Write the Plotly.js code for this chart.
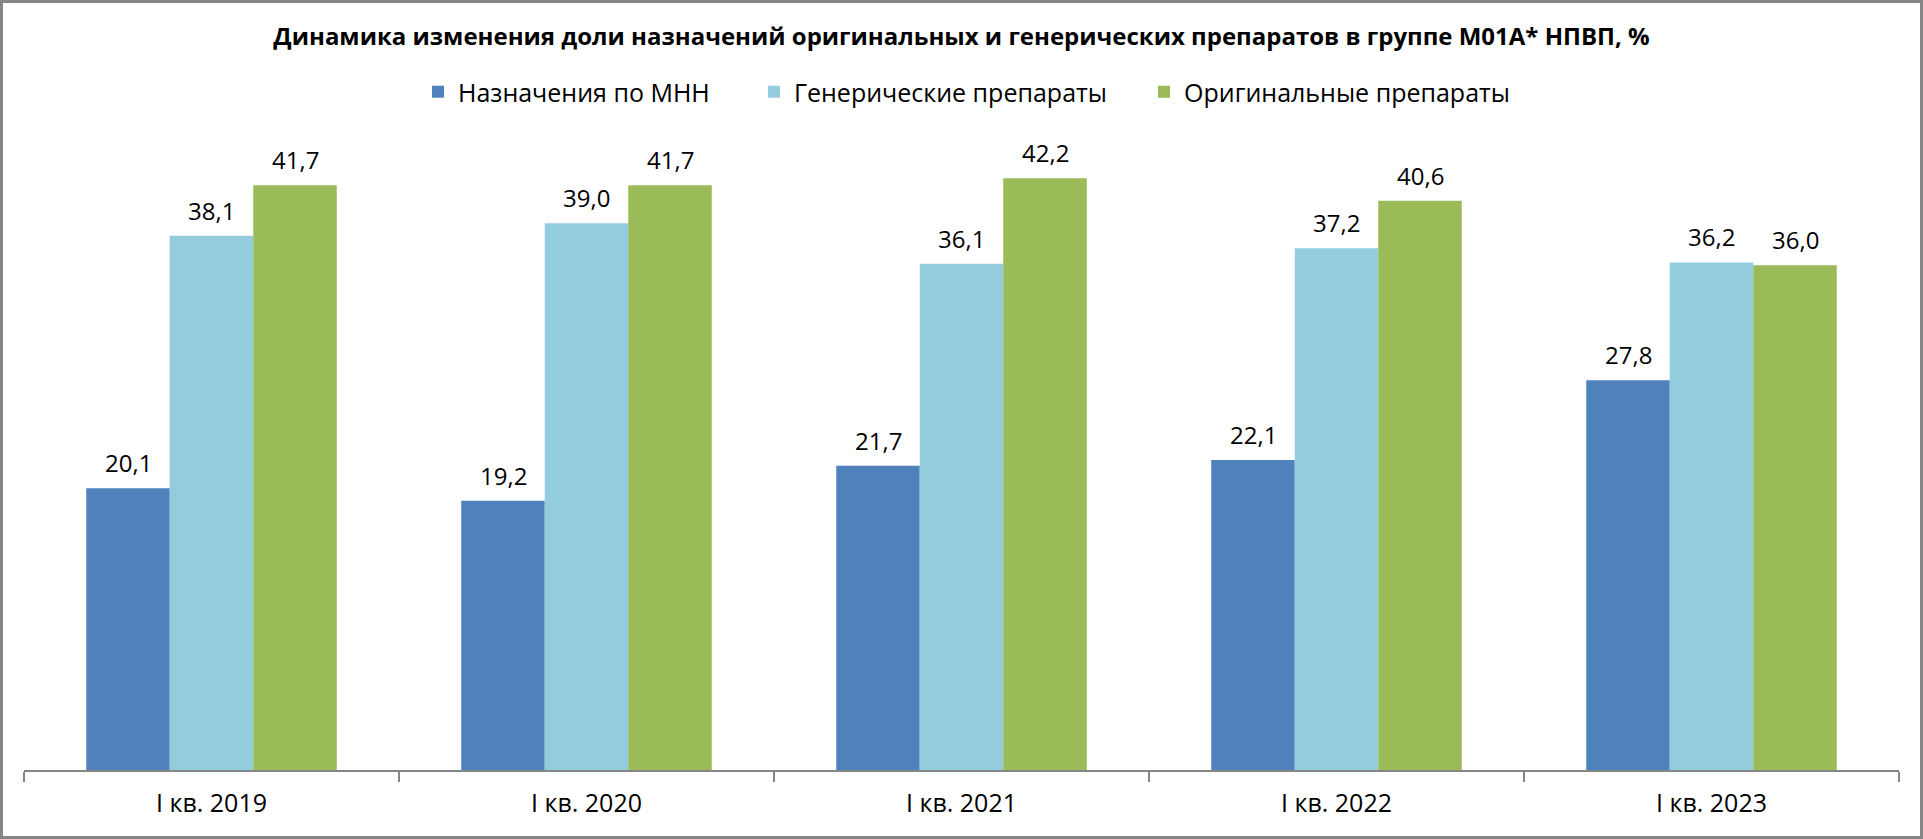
<!DOCTYPE html>
<html>
<head>
<meta charset="utf-8">
<script src="https://cdn.plot.ly/plotly-3.0.1.min.js"></script>
<style>
  html, body { margin: 0; padding: 0; background: #fff; }
  #wrap { position: relative; width: 1923px; height: 839px; }
  #chart { width: 1923px; height: 839px; }
  #frame { position: absolute; left: 0; top: 0; width: 1923px; height: 839px; box-sizing: border-box;
           border: 3px solid #868686; pointer-events: none; z-index: 10; }
</style>
</head>
<body>
<div id="wrap">
  <div id="chart"></div>
  <div id="frame"></div>
</div>
<script>
var quarters = ['I кв. 2019', 'I кв. 2020', 'I кв. 2021', 'I кв. 2022', 'I кв. 2023'];
var seriesNames = ['Назначения по МНН', 'Генерические препараты', 'Оригинальные препараты'];
var innValues = [20.1, 19.2, 21.7, 22.1, 27.8];
var genericValues = [38.1, 39.0, 36.1, 37.2, 36.2];
var originalValues = [41.7, 41.7, 42.2, 40.6, 36.0];

var innColor = '#4F81BD';
var genericColor = '#93CDDD';
var originalColor = '#9BBB59';

var W = 1923, H = 839;
var margin = {l: 24, r: 24, t: 139, b: 69};
var barGap = 0.332;

var textFont = {family: '"Open Sans", sans-serif', size: 24, color: '#000'};
var legendFont = {family: '"Open Sans", sans-serif', size: 25, color: '#000'};

// labels above bars, shifted sideways to sit over each bar of the group
var fillAnnotations = function (x, y, idx, nSeries) {
    var annotations = [];
    var catWidth = (W - margin.l - margin.r) / x.length;
    var barWidth = catWidth * (1 - barGap) / nSeries;
    for (var i = 0; i < x.length; i++) {
        annotations.push({
            x: x[i],
            y: y[i],
            text: y[i].toFixed(1).replace('.', ','),
            xanchor: 'center',
            yanchor: 'bottom',
            xshift: (idx - (nSeries - 1) / 2) * barWidth,
            yshift: 7,
            showarrow: false,
            font: textFont
        });
    }
    return annotations;
};

// one legend box per series so the spacing can follow the original
var legendBox = function (left) {
    return {
        orientation: 'h',
        xref: 'container',
        x: left / W,
        xanchor: 'left',
        yref: 'container',
        y: 1 - 92 / H,
        yanchor: 'middle',
        font: legendFont,
        bgcolor: 'rgba(0,0,0,0)'
    };
};

var makeBar = function (name, values, color, legendId) {
    return {
        x: quarters,
        y: values,
        name: name,
        type: 'bar',
        legend: legendId,
        marker: {color: color},
        hoverinfo: 'skip'
    };
};

var data = [
    makeBar(seriesNames[0], innValues, innColor, 'legend'),
    makeBar(seriesNames[1], genericValues, genericColor, 'legend2'),
    makeBar(seriesNames[2], originalValues, originalColor, 'legend3')
];

var layout = {
    width: W,
    height: H,
    margin: margin,
    paper_bgcolor: '#fff',
    plot_bgcolor: '#fff',
    title: {
        text: '<b>Динамика изменения доли назначений оригинальных и генерических препаратов в группе М01А* НПВП, %</b>',
        font: {family: '"Open Sans", sans-serif', size: 24, color: '#000'},
        x: 0.5,
        xanchor: 'center',
        y: 1 - 37 / H,
        yanchor: 'middle'
    },
    showlegend: true,
    legend: legendBox(418),
    legend2: legendBox(754),
    legend3: legendBox(1144),
    annotations: fillAnnotations(quarters, innValues, 0, 3)
        .concat(fillAnnotations(quarters, genericValues, 1, 3))
        .concat(fillAnnotations(quarters, originalValues, 2, 3)),
    barmode: 'group',
    bargap: barGap,
    bargroupgap: 0,
    xaxis: {
        type: 'category',
        showline: true,
        linecolor: '#868686',
        linewidth: 2,
        ticks: 'outside',
        tickson: 'boundaries',
        ticklen: 10,
        tickcolor: '#868686',
        tickwidth: 1.5,
        ticklabelstandoff: 10,
        tickfont: {family: '"Open Sans", sans-serif', size: 25, color: '#000'},
        showgrid: false,
        zeroline: false
    },
    yaxis: {
        range: [0, 45],
        showline: false,
        showgrid: false,
        zeroline: false,
        showticklabels: false,
        ticks: ''
    }
};

Plotly.newPlot('chart', data, layout, {displayModeBar: false, staticPlot: true});
</script>
</body>
</html>
